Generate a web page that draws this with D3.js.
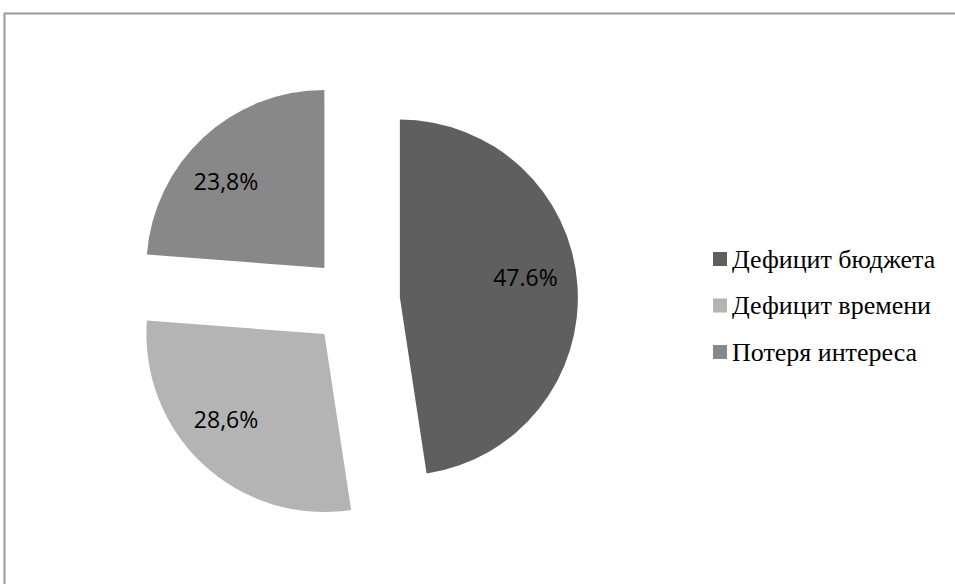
<!DOCTYPE html>
<html><head><meta charset="utf-8">
<script src="https://cdn.jsdelivr.net/npm/d3@7"></script>
<style>html,body{margin:0;padding:0;background:#fff;overflow:hidden}</style>
</head><body>
<svg id="c" width="955" height="584"></svg>
<script>
const categories = ["Дефицит бюджета", "Дефицит времени", "Потеря интереса"];
const values = [47.6, 28.6, 23.8];
const labels = ["47.6%", "28,6%", "23,8%"];
const colors = ["#5f5f5f", "#b4b4b4", "#888888"];

const svg = d3.select("#c");
// chart frame
svg.append("rect").attr("x", 4.5).attr("y", 13.5).attr("width", 1000).attr("height", 1000)
  .attr("fill", "none").attr("stroke", "#9a9a9a").attr("stroke-width", 2);

const cx = 355, cy = 301, r = 178, explode = 45;
const pie = d3.pie().sort(null).value(d => d)(values);
const arc = d3.arc().innerRadius(0).outerRadius(r);
const labelArc = d3.arc().innerRadius(0).outerRadius(r * 1.46);

const g = svg.append("g").attr("transform", `translate(${cx},${cy})`);
const slices = g.selectAll("g.s").data(pie).enter().append("g").attr("class", "s")
  .attr("transform", d => {
    const a = (d.startAngle + d.endAngle) / 2;
    return `translate(${explode * Math.sin(a)},${-explode * Math.cos(a)})`;
  });
slices.append("path").attr("d", arc).attr("fill", (d, i) => colors[i]);
slices.append("text")
  .attr("transform", d => {
    const c = labelArc.centroid(d);
    const dx = c[0] < 0 ? -10 : -4;
    const dy = c[0] < 0 ? -9 * Math.sign(c[1]) : -10;
    return `translate(${c[0] + dx},${c[1] + dy})`;
  })
  .attr("text-anchor", "middle").attr("dy", "0.35em")
  .attr("font-family", "'Open Sans', sans-serif").attr("font-size", 23).attr("fill", "#000")
  .text((d, i) => labels[i]);

// legend
const lg = svg.append("g").attr("transform", "translate(713,259)");
const items = lg.selectAll("g").data(categories).enter().append("g")
  .attr("transform", (d, i) => `translate(0,${i * 46.5})`);
items.append("rect").attr("x", 0).attr("y", -7).attr("width", 14).attr("height", 14)
  .attr("fill", (d, i) => colors[i]);
items.append("text").attr("x", 19).attr("y", 8.5)
  .attr("font-family", "'Liberation Serif', 'Times New Roman', serif").attr("font-size", 26)
  .attr("fill", "#000").text(d => d);
</script>
</body></html>
